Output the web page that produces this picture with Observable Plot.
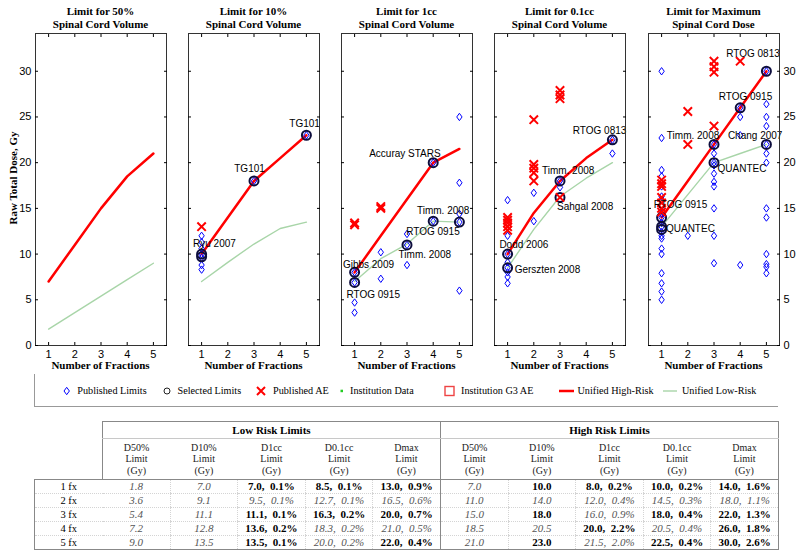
<!DOCTYPE html>
<html><head><meta charset="utf-8">
<script src="https://cdn.jsdelivr.net/npm/d3@7"></script>
<script src="https://cdn.jsdelivr.net/npm/@observablehq/plot@0.6"></script>
<style>
body{margin:0;background:#fff;}
#root{position:relative;width:800px;height:552px;overflow:hidden;background:#fff;}
.ttl{position:absolute;width:170px;text-align:center;font:bold 11px/13px "Liberation Serif",serif;color:#000;}
.xl{position:absolute;width:170px;text-align:center;font:bold 11px/13px "Liberation Serif",serif;color:#000;}
.yl{position:absolute;font:bold 11px/13px "Liberation Serif",serif;color:#000;white-space:nowrap;transform:translate(-50%,-50%) rotate(-90deg);}
table.lim{position:absolute;left:34px;top:421px;width:745px;border-collapse:collapse;table-layout:fixed;font-family:"Liberation Serif",serif;color:#000;}
table.lim td{padding:0;text-align:center;white-space:nowrap;overflow:hidden;}
</style></head><body><div id="root"></div>
<script>
// ---------- data ----------
const fractions = [1, 2, 3, 4, 5];
const yTicks = [0, 5, 10, 15, 20, 25, 30];
const panelTitles = [
  ["Limit for 50%", "Spinal Cord Volume"],
  ["Limit for 10%", "Spinal Cord Volume"],
  ["Limit for 1cc", "Spinal Cord Volume"],
  ["Limit for 0.1cc", "Spinal Cord Volume"],
  ["Limit for Maximum", "Spinal Cord Dose"]
];
const xLabel = "Number of Fractions";
const yLabel = "Raw Total Dose, Gy";

// unified limits (table values, Gy) and risk (%)
const lowD50 = [1.8, 3.6, 5.4, 7.2, 9.0];
const lowD10 = [7.0, 9.1, 11.1, 12.8, 13.5];
const lowD1cc = [7.0, 9.5, 11.1, 13.6, 13.5];
const lowD1ccRisk = [0.1, 0.1, 0.1, 0.2, 0.1];
const lowD01cc = [8.5, 12.7, 16.3, 18.3, 20.0];
const lowD01ccRisk = [0.1, 0.1, 0.2, 0.2, 0.2];
const lowDmax = [13.0, 16.5, 20.0, 21.0, 22.0];
const lowDmaxRisk = [0.9, 0.6, 0.7, 0.5, 0.4];
const highD50 = [7.0, 11.0, 15.0, 18.5, 21.0];
const highD10 = [10.0, 14.0, 18.0, 20.5, 23.0];
const highD1cc = [8.0, 12.0, 16.0, 20.0, 21.5];
const highD1ccRisk = [0.2, 0.4, 0.9, 2.2, 2.0];
const highD01cc = [10.0, 14.5, 18.0, 20.5, 22.5];
const highD01ccRisk = [0.2, 0.3, 0.4, 0.4, 0.4];
const highDmax = [14.0, 18.0, 22.0, 26.0, 30.0];
const highDmaxRisk = [1.6, 1.1, 1.3, 1.8, 2.6];
// 1 = value taken from a selected published limit, 0 = interpolated
const lowFromSource = [[0,0,0,0,0],[0,0,0,0,0],[1,0,1,1,1],[1,0,1,0,0],[1,0,1,0,1]];
const highFromSource = [[0,0,0,0,0],[1,0,1,0,1],[1,0,0,1,0],[1,0,1,0,1],[1,0,1,1,1]];
const rowLabels = ["1 fx", "2 fx", "3 fx", "4 fx", "5 fx"];
const colHeads = ["D50%", "D10%", "D1cc", "D0.1cc", "Dmax"];

// scatter data per panel: [fractions, dose]
const publishedD10 = [[1,12.0],[1,11.3],[1,10.6],[1,10.0],[1,9.6],[1,8.8],[1,8.3],[3,18.0],[5,23.0]];
const selectedD10 = [[1,10.0],[1,9.7],[3,18.0],[5,23.0]];
const aeD10 = [[1,13.0]];
const labelsD10 = [{text:"Ryu 2007",x:1.49,y:11.1},{text:"TG101",x:2.83,y:19.3},{text:"TG101",x:4.93,y:24.3}];

const publishedD1cc = [[1,8.0],[1,6.9],[1,4.7],[1,3.6],[2,10.2],[2,7.3],[3,12.2],[3,11.0],[3,8.8],[4,20.0],[4,13.6],[5,25.0],[5,17.8],[5,14.4],[5,13.5],[5,6.0]];
const selectedD1cc = [[1,8.0],[1,6.9],[3,11.0],[4,13.6],[4,20.0],[5,13.5]];
const aeD1cc = [[1,13.4],[1,13.2],[2,15.2],[2,15.0]];
const labelsD1cc = [{text:"Accuray STARS",x:2.92,y:21.0},{text:"Timm. 2008",x:4.38,y:14.7},{text:"RTOG 0915",x:3.99,y:12.4},{text:"Timm. 2008",x:3.68,y:9.9},{text:"Gibbs 2009",x:1.53,y:8.8},{text:"RTOG 0915",x:1.71,y:5.6}];

const publishedD01cc = [[1,15.9],[1,12.0],[1,10.0],[1,9.1],[1,8.5],[1,8.0],[1,7.5],[1,6.8],[2,16.7],[2,13.6],[3,18.0],[3,17.3],[5,22.5],[5,21.0]];
const selectedD01cc = [[1,10.0],[1,8.5],[3,18.0],[3,16.2],[5,22.5]];
const aeD01cc = [[1,14.0],[1,13.7],[1,13.4],[1,13.0],[1,12.6],[2,24.7],[2,19.8],[2,19.4],[2,18.9],[2,18.0],[3,27.9],[3,27.4],[3,27.0],[3,16.2]];
const labelsD01cc = [{text:"RTOG 0813",x:4.51,y:23.5},{text:"Timm. 2008",x:3.31,y:19.1},{text:"Sahgal 2008",x:3.96,y:15.15},{text:"Dodd 2006",x:1.62,y:11.0},{text:"Gerszten 2008",x:2.52,y:8.3}];

const publishedDmax = [[1,30.0],[1,22.7],[1,19.2],[1,18.5],[1,17.4],[1,16.3],[1,15.2],[1,14.4],[1,14.0],[1,13.4],[1,13.0],[1,12.4],[1,12.0],[1,11.7],[1,10.6],[1,10.0],[1,7.9],[1,6.8],[1,5.9],[1,5.0],
  [2,12.0],[3,22.0],[3,21.0],[3,20.0],[3,19.7],[3,18.8],[3,17.9],[3,17.4],[3,15.0],[3,12.0],[3,9.0],
  [4,26.0],[4,25.0],[4,23.0],[4,8.8],[5,30.0],[5,26.4],[5,25.0],[5,24.0],[5,22.0],[5,21.0],[5,20.0],[5,15.0],[5,14.0],[5,10.0],[5,8.9],[5,8.6],[5,7.9]];
const selectedDmax = [[1,14.0],[1,13.0],[1,12.7],[3,22.0],[3,20.0],[4,26.0],[5,30.0],[5,22.0]];
const aeDmax = [[1,18.1],[1,17.7],[1,17.4],[1,16.2],[1,15.6],[1,15.0],[1,14.6],[2,25.6],[2,22.0],[3,31.1],[3,30.5],[3,29.9],[3,24.0],[4,31.1]];
const labelsDmax = [{text:"RTOG 0813",x:4.49,y:31.9},{text:"RTOG 0915",x:4.2,y:27.2},{text:"Timm. 2008",x:2.2,y:22.9},{text:"Chang 2007",x:4.57,y:22.9},{text:"QUANTEC",x:4.07,y:19.35},{text:"RTOG 0915",x:1.72,y:15.4},{text:"QUANTEC",x:2.1,y:12.8}];

const legendItems = ["Published Limits","Selected Limits","Published AE","Institution Data","Institution G3 AE","Unified High-Risk","Unified Low-Risk"];

// ---------- build ----------
const root = document.getElementById("root");
const panels = [
  {low: lowD50, high: highD50, published: [], selected: [], ae: [], labels: []},
  {low: lowD10, high: highD10, published: publishedD10, selected: selectedD10, ae: aeD10, labels: labelsD10},
  {low: lowD1cc, high: highD1cc, published: publishedD1cc, selected: selectedD1cc, ae: aeD1cc, labels: labelsD1cc},
  {low: lowD01cc, high: highD01cc, published: publishedD01cc, selected: selectedD01cc, ae: aeD01cc, labels: labelsD01cc},
  {low: lowDmax, high: highDmax, published: publishedDmax, selected: selectedDmax, ae: aeDmax, labels: labelsDmax}
];
const diamondSym = {draw(ctx, size){const r=Math.sqrt(size/Math.PI);ctx.moveTo(0,-r);ctx.lineTo(r*0.72,0);ctx.lineTo(0,r);ctx.lineTo(-r*0.72,0);ctx.closePath();}};
const crossSym = {draw(ctx, size){const r=Math.sqrt(size/Math.PI);ctx.moveTo(-r,-r);ctx.lineTo(r,r);ctx.moveTo(r,-r);ctx.lineTo(-r,r);}};
const panelLefts = [35, 188, 341, 494, 648];
const frameW = 131;
const seriesOf = arr => fractions.map((f, k) => ({x: f, y: arr[k]}));

panels.forEach((p, i) => {
  const mL = 34, mR = 30;
  const svg = Plot.plot({
    width: frameW + mL + mR, height: 365,
    marginLeft: mL, marginRight: mR, marginTop: 33, marginBottom: 20,
    x: {domain: [0.5, 5.5]},
    y: {domain: [0, 34.13]},
    style: {background: "transparent", overflow: "visible", fontFamily: "'Liberation Sans', Arial, sans-serif", fontSize: "11px", color: "#000"},
    marks: [
      Plot.line(seriesOf(p.low), {x: "x", y: "y", stroke: "#a8d5a8", strokeWidth: 1.4}),
      Plot.line(seriesOf(p.high), {x: "x", y: "y", stroke: "#ff0000", strokeWidth: 2.5}),
      Plot.dot(p.published, {x: d => d[0], y: d => d[1], symbol: diamondSym, r: 3.7, stroke: "#0000ff", strokeWidth: 1, fill: "none"}),
      Plot.dot(p.selected, {x: d => d[0], y: d => d[1], symbol: "circle", r: 4.5, stroke: "#0d0d3d", strokeWidth: 2, fill: "none"}),
      Plot.dot(p.ae, {x: d => d[0], y: d => d[1], symbol: crossSym, r: 4.2, stroke: "#ff0000", strokeWidth: 2}),
      Plot.text(p.labels, {x: "x", y: "y", text: "text", fontSize: 10, textAnchor: "middle", lineAnchor: "middle", fill: "#000"}),
      Plot.frame({stroke: "#333"}),
      Plot.axisX(fractions, {anchor: "bottom", tickSize: -3, tickPadding: 8, label: null}),
      Plot.axisX(fractions, {anchor: "top", tickSize: -3, fill: "none", label: null}),
      Plot.axisY(yTicks, {anchor: "left", tickSize: -3, tickPadding: 7, label: null, fill: i === 0 ? "currentColor" : "none"}),
      Plot.axisY(yTicks, {anchor: "right", tickSize: -3, tickPadding: 7, label: null, fill: i === 4 ? "currentColor" : "none"})
    ]
  });
  svg.style.position = "absolute";
  svg.style.left = (panelLefts[i] - mL) + "px";
  svg.style.top = "0px";
  root.appendChild(svg);

  const cx = panelLefts[i] + frameW / 2;
  const t = document.createElement("div");
  t.className = "ttl";
  t.style.left = (cx - 85) + "px"; t.style.top = "5px";
  t.innerHTML = panelTitles[i][0] + "<br>" + panelTitles[i][1];
  root.appendChild(t);
  const xl = document.createElement("div");
  xl.className = "xl";
  xl.style.left = (cx - 85) + "px"; xl.style.top = "359px";
  xl.textContent = xLabel;
  root.appendChild(xl);
});
const yl = document.createElement("div");
yl.className = "yl"; yl.style.left = "12.7px"; yl.style.top = "178px";
yl.textContent = yLabel;
root.appendChild(yl);

// ---------- legend ----------
const NS = "http://www.w3.org/2000/svg";
const lg = document.createElementNS(NS, "svg");
lg.setAttribute("width", 800); lg.setAttribute("height", 40);
lg.style.position = "absolute"; lg.style.left = "0px"; lg.style.top = "370px";
const cy = 21;
const textX = [77.3, 177.5, 273, 350, 461, 577.5, 682];
let html = `<line x1="34.5" y1="4" x2="34.5" y2="36" stroke="#999"/><line x1="34" y1="36.5" x2="778" y2="36.5" stroke="#999"/>`;
html += `<path d="M66.7,${cy-3.7}L69.4,${cy}L66.7,${cy+3.7}L64,${cy}Z" fill="none" stroke="#0000ff"/>`;
html += `<circle cx="167" cy="${cy}" r="3" fill="none" stroke="#222" stroke-width="1"/>`;
html += `<path d="M257,${cy-4}L265,${cy+4}M265,${cy-4}L257,${cy+4}" stroke="#ff0000" stroke-width="2"/>`;
html += `<rect x="340.5" y="${cy-1.3}" width="2.5" height="2.5" fill="#22cc22"/>`;
html += `<rect x="445" y="${cy-4.5}" width="9" height="9" fill="none" stroke="#ee4444" stroke-width="1.4"/>`;
html += `<line x1="559" y1="${cy}" x2="574" y2="${cy}" stroke="#ff0000" stroke-width="2.5"/>`;
html += `<line x1="663" y1="${cy}" x2="677" y2="${cy}" stroke="#a8d5a8" stroke-width="1.4"/>`;
legendItems.forEach((s, k) => {
  html += `<text x="${textX[k]}" y="${cy}" dy="0.34em" font-family="'Liberation Serif',serif" font-size="10.2" fill="#000">${s}</text>`;
});
lg.innerHTML = html;
root.appendChild(lg);

// ---------- table ----------
const fmt = v => v.toFixed(1);
const lowCols = [lowD50, lowD10, lowD1cc, lowD01cc, lowDmax];
const lowRisk = [null, null, lowD1ccRisk, lowD01ccRisk, lowDmaxRisk];
const highCols = [highD50, highD10, highD1cc, highD01cc, highDmax];
const highRisk = [null, null, highD1ccRisk, highD01ccRisk, highDmaxRisk];
const solid = "1px solid #888", faint = "1px dotted #d4d4d4", light = "1px solid #c8c8c8";
let t = `<colgroup><col style="width:68px">` + "<col>".repeat(10) + `</colgroup>`;
t += `<tr style="height:17px"><td></td>
<td colspan="5" style="border-top:${solid};border-left:${solid};border-bottom:${light};font-weight:bold;font-size:11px">Low Risk Limits</td>
<td colspan="5" style="border-top:${solid};border-left:${solid};border-right:${solid};border-bottom:${light};font-weight:bold;font-size:11px">High Risk Limits</td></tr>`;
t += `<tr style="height:41px"><td style="border-bottom:${solid}"></td>`;
for (let g = 0; g < 2; g++) for (let c = 0; c < 5; c++) {
  let st = `border-bottom:${solid};font-size:10px;line-height:11.5px;color:#222;`;
  if (c === 0) st += `border-left:${solid};`;
  if (g === 1 && c === 4) st += `border-right:${solid};`;
  t += `<td style="${st}">${colHeads[c]}<br>Limit<br>(Gy)</td>`;
}
t += `</tr>`;
rowLabels.forEach((rl, r) => {
  const last = r === rowLabels.length - 1;
  const bb = last ? solid : faint;
  t += `<tr style="height:13px"><td style="border-left:${solid};border-bottom:${bb};font-size:10.5px;line-height:13px">${rl}</td>`;
  [[lowCols, lowRisk, lowFromSource], [highCols, highRisk, highFromSource]].forEach(([cols, risk, src], g) => {
    for (let c = 0; c < 5; c++) {
      const v = cols[c][r];
      const txt = risk[c] ? `${fmt(v)},&nbsp; ${fmt(risk[c][r])}%` : fmt(v);
      const bold = src[c][r] === 1;
      let st = `border-bottom:${bb};font-size:11px;line-height:13px;`;
      st += bold ? "font-weight:bold;color:#000;" : "font-style:italic;color:#555;";
      if (c === 0 && g === 1) st += `border-left:${solid};`;
      else if (c > 0) st += `border-left:${faint};`;
      if (g === 1 && c === 4) st += `border-right:${solid};`;
      t += `<td style="${st}">${txt}</td>`;
    }
  });
  t += `</tr>`;
});
const tbl = document.createElement("table");
tbl.className = "lim";
tbl.innerHTML = t;
root.appendChild(tbl);
</script></body></html>
